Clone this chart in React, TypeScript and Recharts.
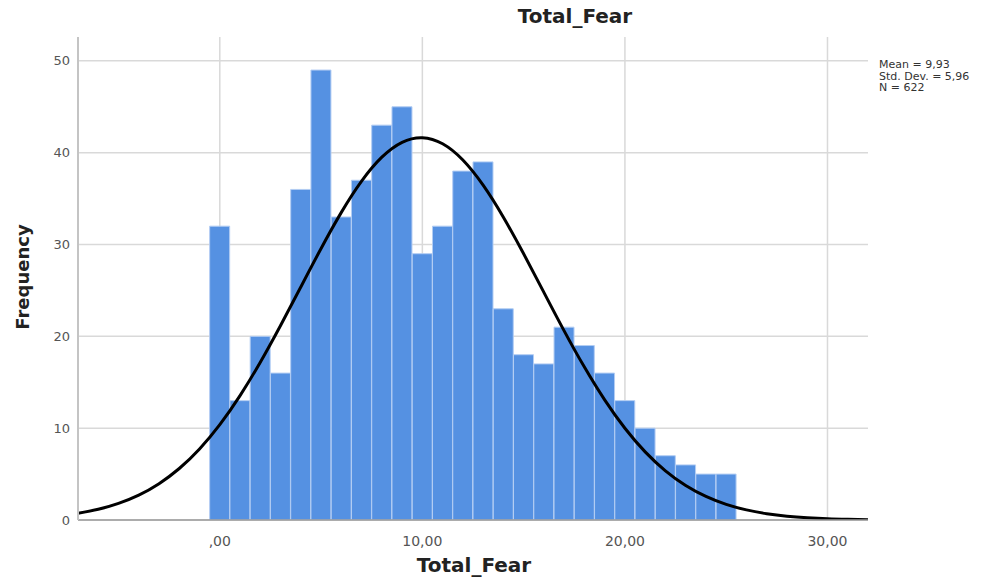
import React from 'react';
import { ComposedChart, Bar, Line, XAxis, YAxis, CartesianGrid } from 'recharts';

// Histogram bins (bin centers) and frequencies
const binCenters = [0, 1, 2, 3, 4, 5, 6, 7, 8, 9, 10, 11, 12, 13, 14, 15, 16, 17, 18, 19, 20, 21, 22, 23, 24, 25];
const frequencies = [32, 13, 20, 16, 36, 49, 33, 37, 43, 45, 29, 32, 38, 39, 23, 18, 17, 21, 19, 16, 13, 10, 7, 6, 5, 5];

// Normal curve
const curveX = [-7, -6, -5, -4, -3, -2, -1, 0, 1, 2, 3, 4, 5, 6, 7, 8, 9, 10, 11, 12, 13, 14, 15, 16, 17, 18, 19, 20, 21, 22, 23, 24, 25, 26, 27, 28, 29, 30, 31, 32];
const curveY = [0.74, 1.17, 1.81, 2.71, 3.96, 5.61, 7.74, 10.39, 13.55, 17.18, 21.18, 25.38, 29.57, 33.5, 36.9, 39.51, 41.13, 41.63, 40.97, 39.2, 36.46, 32.97, 28.99, 24.79, 20.6, 16.65, 13.08, 9.99, 7.42, 5.36, 3.76, 2.57, 1.7, 1.1, 0.69, 0.42, 0.25, 0.14, 0.08, 0.04];

const xTicks = [0, 10, 20, 30];
const xTickLabels = [',00', '10,00', '20,00', '30,00'];
const yTicks = [0, 10, 20, 30, 40, 50];
const statsLines = ['Mean = 9,93', 'Std. Dev. = 5,96', 'N = 622'];
const chartTitle = 'Total_Fear';
const xLabel = 'Total_Fear';
const yLabel = 'Frequency';

const data = curveX.map((x, i) => {
  const bi = binCenters.indexOf(x);
  return { x, count: bi >= 0 ? frequencies[bi] : null, curve: curveY[i] };
});

const FONT = '"DejaVu Sans", "Open Sans", sans-serif';

export default function App() {
  return (
    <div style={{ position: 'absolute', left: 0, top: 0, width: 996, height: 577, background: '#fff', fontFamily: FONT }}>
      <ComposedChart
        width={996}
        height={577}
        data={data}
        margin={{ top: 37, right: 128, bottom: 27, left: 38 }}
        barCategoryGap={0}
        barGap={0}
      >
        <CartesianGrid
          stroke="#d9d9d9"
          strokeWidth={1.5}
          horizontalValues={yTicks}
          verticalValues={xTicks}
        />
        <XAxis
          dataKey="x"
          type="number"
          domain={[-7, 32]}
          ticks={xTicks}
          tickFormatter={(v) => xTickLabels[xTicks.indexOf(v)] ?? String(v)}
          tickLine={false}
          tickSize={6}
          tickMargin={10}
          height={30}
          axisLine={{ stroke: '#9a9a9a', strokeWidth: 1.5 }}
          tick={{ fill: '#555', fontSize: 14, fontFamily: FONT }}
          allowDataOverflow
        />
        <YAxis
          type="number"
          domain={[0, 52.6]}
          ticks={yTicks}
          tickLine={false}
          width={40}
          axisLine={{ stroke: '#c4c4c4', strokeWidth: 2 }}
          tick={{ fill: '#555', fontSize: 13, fontFamily: FONT }}
          allowDataOverflow
        />
        <Bar dataKey="count" fill="#5591E2" stroke="#b3cdf3" strokeWidth={1} isAnimationActive={false} />
        <Line dataKey="curve" type="natural" stroke="#000" strokeWidth={3} dot={false} activeDot={false} isAnimationActive={false} />
      </ComposedChart>
      <div style={{ position: 'absolute', left: 575, top: 4, transform: 'translateX(-50%)', fontWeight: 'bold', fontSize: 20, color: '#222', whiteSpace: 'nowrap' }}>
        {chartTitle}
      </div>
      <div style={{ position: 'absolute', left: 474, top: 553, transform: 'translateX(-50%)', fontWeight: 'bold', fontSize: 20, color: '#222', whiteSpace: 'nowrap' }}>
        {xLabel}
      </div>
      <div style={{ position: 'absolute', left: 22, top: 277, transform: 'translate(-50%, -50%) rotate(-90deg)', fontWeight: 'bold', fontSize: 18, color: '#222', whiteSpace: 'nowrap' }}>
        {yLabel}
      </div>
      <div style={{ position: 'absolute', left: 879, top: 59, fontSize: 11, lineHeight: '11.5px', color: '#333', whiteSpace: 'nowrap' }}>
        {statsLines.map((s) => (
          <div key={s}>{s}</div>
        ))}
      </div>
    </div>
  );
}
